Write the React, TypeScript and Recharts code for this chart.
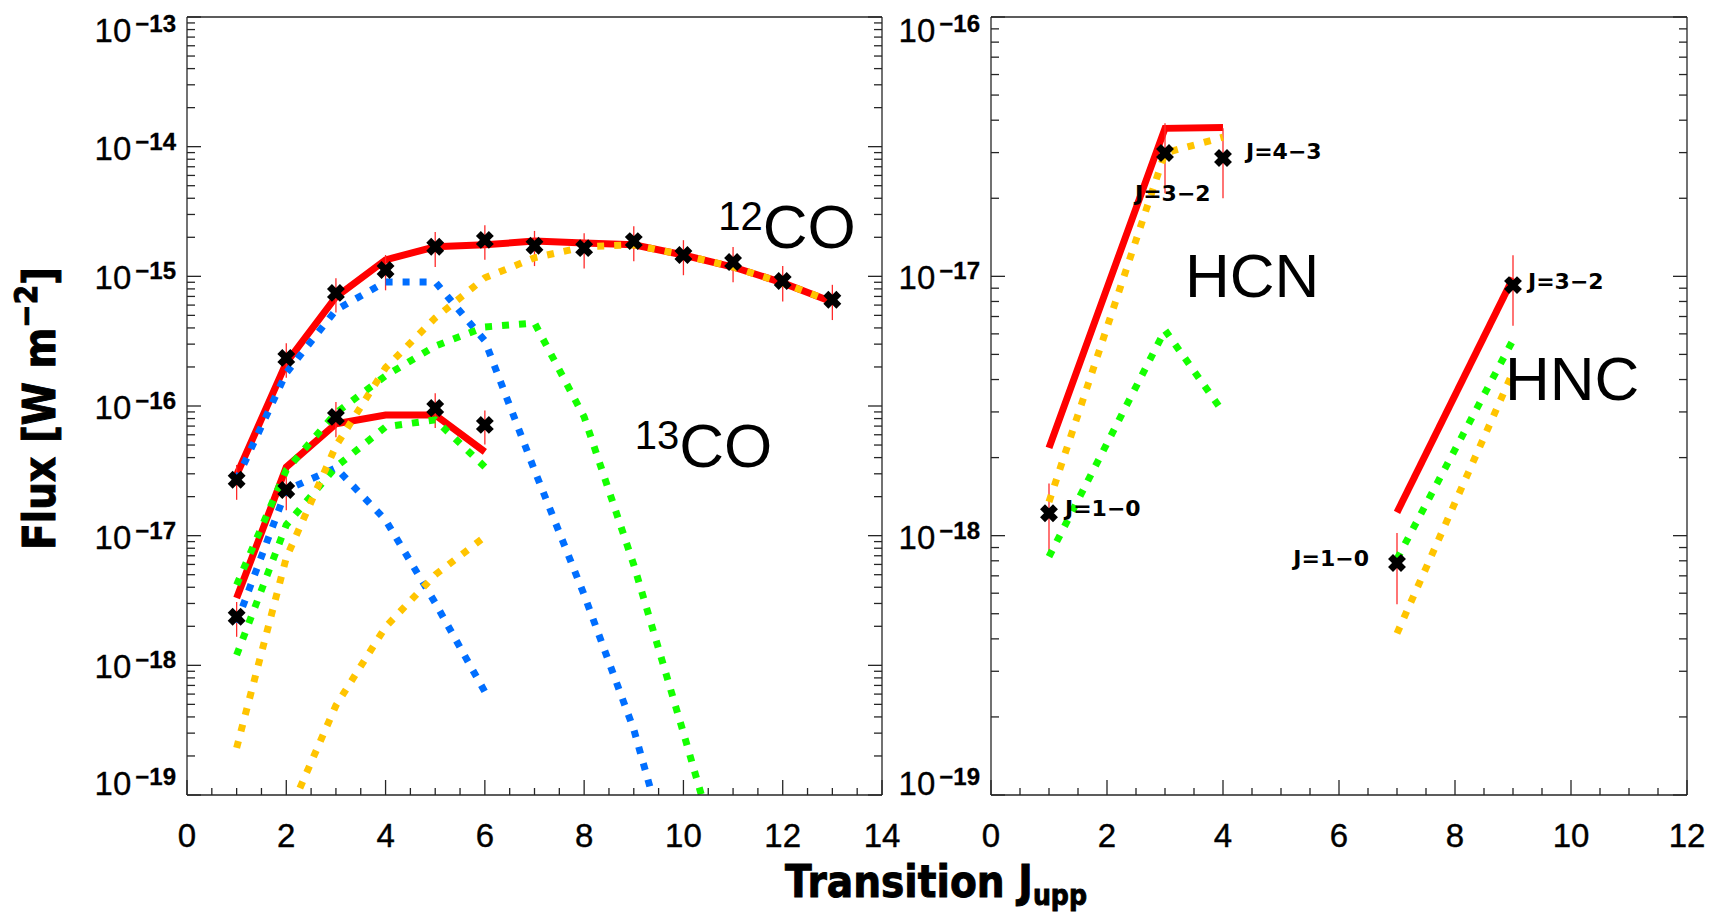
import React from 'react';
import { ComposedChart, Line, Scatter, XAxis, YAxis, ErrorBar } from 'recharts';

// ---------- left panel: CO ladders ----------
const co12J = [1, 2, 3, 4, 5, 6, 7, 8, 9, 10, 11, 12, 13];
const co12Flux = [2.7e-17, 2.35e-16, 7.45e-16, 1.12e-15, 1.69e-15, 1.91e-15, 1.72e-15, 1.65e-15, 1.87e-15, 1.46e-15, 1.29e-15, 9.2e-16, 6.6e-16];
const co12Sigma = [8.1e-18, 7.0e-17, 2.2e-16, 3.4e-16, 5.1e-16, 5.7e-16, 5.2e-16, 5.0e-16, 5.6e-16, 4.4e-16, 3.9e-16, 2.8e-16, 2.0e-16];
const co12Total = [2.94e-17, 2.15e-16, 6.93e-16, 1.34e-15, 1.69e-15, 1.75e-15, 1.87e-15, 1.81e-15, 1.75e-15, 1.46e-15, 1.18e-15, 8.9e-16, 6.35e-16];
const co12BlueJ = [1, 2, 3, 4, 5, 6, 7, 8, 9, 10];
const co12Blue = [2.7e-17, 1.8e-16, 5.5e-16, 9.06e-16, 9.06e-16, 3.18e-16, 3.2e-17, 3.5e-18, 3.2e-19, 1.4e-20];
const co12GreenJ = [1, 2, 3, 4, 5, 6, 7, 8, 9, 10, 11];
const co12Green = [4.18e-18, 3.21e-17, 8.85e-17, 1.71e-16, 2.9e-16, 4.07e-16, 4.37e-16, 8.24e-17, 5.96e-18, 3.02e-19, 1.42e-20];
const co12Orange = [2.31e-19, 6.75e-18, 4.92e-17, 1.97e-16, 4.78e-16, 9.73e-16, 1.39e-15, 1.69e-15, 1.75e-15, 1.46e-15, 1.18e-15, 8.9e-16, 6.35e-16];

const co13J = [1, 2, 3, 4, 5, 6];
const co13ObsJ = [1, 2, 3, 5, 6];
const co13Flux = [2.37e-18, 2.25e-17, 8.24e-17, 9.66e-17, 7.15e-17];
const co13Sigma = [7.1e-19, 6.8e-18, 2.5e-17, 2.9e-17, 2.1e-17];
const co13Total = [3.3e-18, 3.38e-17, 7.28e-17, 8.53e-17, 8.53e-17, 4.43e-17];
const co13Blue = [2.13e-18, 2.25e-17, 3.33e-17, 1.32e-17, 3.03e-18, 6.25e-19];
const co13Green = [1.2e-18, 1.21e-17, 3.39e-17, 6.9e-17, 7.82e-17, 3.39e-17];
const co13OrangeJ = [2, 3, 4, 5, 6];
const co13Orange = [6.5e-20, 4.9e-19, 1.98e-18, 4.99e-18, 9.8e-18];

// ---------- right panel: HCN / HNC ----------
const hcnJ = [1, 3, 4];
const hcnFlux = [1.22e-18, 2.99e-17, 2.86e-17];
const hcnSigma = [3.7e-19, 9.0e-18, 8.6e-18];
const hcnTotal = [2.18e-18, 3.72e-17, 3.75e-17];
const hcnGreen = [8.3e-19, 6.2e-18, 3.0e-18];
const hcnOrange = [1.35e-18, 2.99e-17, 3.44e-17];
const hcnLabels = ['J=1\u22120', 'J=3\u22122', 'J=4\u22123'];

const hncX = [7, 9];
const hncFlux = [7.84e-19, 9.25e-18];
const hncSigma = [2.4e-19, 2.8e-18];
const hncTotal = [1.23e-18, 9.84e-18];
const hncGreen = [8.13e-19, 5.68e-18];
const hncOrange = [4.2e-19, 4.28e-18];
const hncLabels = ['J=1\u22120', 'J=3\u22122'];

// molecule names, anchored in data coordinates
const leftNoteIso = ['12', '13'];
const leftNoteMol = ['CO', 'CO'];
const leftNoteX = [10.7, 9.02];
const leftNoteY = [1.66e-15, 3.39e-17];
const rightNoteIso = ['', ''];
const rightNoteMol = ['HCN', 'HNC'];
const rightNoteX = [3.345, 8.86];
const rightNoteY = [8.32e-18, 3.33e-18];

// axes
const xMajorLeft = [0, 2, 4, 6, 8, 10, 12, 14];
const xMajorRight = [0, 2, 4, 6, 8, 10, 12];
const yDecadesLeft = [-19, -18, -17, -16, -15, -14, -13];
const yDecadesRight = [-19, -18, -17, -16];

// layout for the J labels next to points (kept apart from the data)
const hcnLabelPos = [
  { dx: 16, dy: 3, anchor: 'start' },
  { dx: -30, dy: 48, anchor: 'start' },
  { dx: 23, dy: 1, anchor: 'start' },
];
const hncLabelPos = [
  { dx: -28, dy: 3, anchor: 'end' },
  { dx: 15, dy: 4, anchor: 'start' },
];

const AXIS = '#262626';
const RED = '#ff0000';
const BLUE = '#006eff';
const GREEN = '#14ff00';
const ORANGE = '#ffc400';
const SANS = '"Liberation Sans", Arial, sans-serif';
const HEAVY = '"DejaVu Sans", sans-serif';

const toPts = (xs: number[], ys: number[]) => xs.map((x, i) => ({ x, y: ys[i] }));
const toObs = (xs: number[], ys: number[], sig: number[], labels?: string[]) =>
  xs.map((x, i) => ({ x, y: ys[i], err: [sig[i], sig[i]], label: labels ? labels[i] : '', i }));
const toNotes = (iso: string[], mol: string[], xs: number[], ys: number[]) =>
  xs.map((x, i) => ({ x, y: ys[i], iso: iso[i], mol: mol[i] }));

const halfTicks = (majors: number[]) => {
  const out: number[] = [];
  for (let v = majors[0]; v <= majors[majors.length - 1] + 1e-9; v += 0.5) out.push(v);
  return out;
};
const logTicks = (decades: number[]) => {
  const out: number[] = [];
  decades.forEach((d, k) => {
    out.push(Number(`1e${d}`));
    if (k < decades.length - 1) for (let m = 2; m <= 9; m++) out.push(Number(`${m}e${d}`));
  });
  return out;
};

function XTick(props: any) {
  const { x, y, payload, top } = props;
  const v = payload.value;
  const major = Math.abs(v % 2) < 1e-9;
  const len = major ? 15 : 7;
  const dir = top ? 1 : -1;
  return (
    <g>
      <line x1={x} y1={y} x2={x} y2={y + dir * len} stroke={AXIS} strokeWidth={1.3} />
      {major && !top && (
        <text x={x} y={y + 52} textAnchor="middle" fontFamily={SANS} fontSize={33} fill="#000"
          stroke="#000" strokeWidth={0.4}>
          {v}
        </text>
      )}
    </g>
  );
}

function YTick(props: any) {
  const { x, y, payload, right, decades } = props;
  const e = Math.log10(payload.value);
  const k = Math.round(e);
  const major = Math.abs(e - k) < 1e-6;
  const len = major ? 14 : 8;
  const dir = right ? -1 : 1;
  let base = 13;
  if (k === decades[decades.length - 1]) base = 25;
  if (k === decades[0]) base = 0;
  return (
    <g>
      <line x1={x} y1={y} x2={x + dir * len} y2={y} stroke={AXIS} strokeWidth={1.3} />
      {major && !right && (
        <text x={x - 11} y={y + base} textAnchor="end" fontFamily={SANS} fontSize={33} fill="#000"
          stroke="#000" strokeWidth={0.3}>
          10
          <tspan dx={4} dy={-10} fontSize={24} fontWeight="bold">{`\u2212${Math.abs(k)}`}</tspan>
        </text>
      )}
    </g>
  );
}

const makeMarker = (pos?: { dx: number; dy: number; anchor: string }[]) => (p: any) => {
  const { cx, cy, payload } = p;
  const lp = pos && payload && pos[payload.i];
  return (
    <g>
      <path
        d={`M${cx - 4},${cy - 4}L${cx + 4},${cy + 4}M${cx - 4},${cy + 4}L${cx + 4},${cy - 4}`}
        stroke="#000"
        strokeWidth={7}
        strokeLinecap="square"
      />
      {lp && (
        <text x={cx + lp.dx} y={cy + lp.dy} textAnchor={lp.anchor} fontFamily={HEAVY} fontWeight="bold" fontSize={22} fill="#000">
          {payload.label}
        </text>
      )}
    </g>
  );
};

const noteShape = (p: any) => {
  const { cx, cy, payload } = p;
  return (
    <text x={cx} y={cy} fontFamily={SANS} fill="#000">
      {payload.iso ? <tspan fontSize={40} dy={-18}>{payload.iso}</tspan> : null}
      <tspan fontSize={62} dy={payload.iso ? 18 : 0}>{payload.mol}</tspan>
    </text>
  );
};

const noShape = () => <g />;

const dotted = { strokeWidth: 7, strokeDasharray: '7 10', dot: false, activeDot: false, isAnimationActive: false } as const;
const solid = { strokeWidth: 7, dot: false, activeDot: false, isAnimationActive: false } as const;

function renderAxes(xMajor: number[], decades: number[]) {
  const xt = halfTicks(xMajor);
  const yt = logTicks(decades);
  const xDom = [xMajor[0], xMajor[xMajor.length - 1]];
  const yDom = [Number(`1e${decades[0]}`), Number(`1e${decades[decades.length - 1]}`)];
  const axisLine = { stroke: AXIS, strokeWidth: 1.3 };
  return [
    <XAxis key="xb" xAxisId={0} dataKey="x" type="number" domain={xDom} allowDataOverflow ticks={xt} interval={0}
      tickSize={0} tickMargin={0} tickLine={false} height={60} axisLine={axisLine}
      tick={(p: any) => <XTick {...p} />} />,
    <XAxis key="xt" xAxisId="top" orientation="top" type="number" domain={xDom} allowDataOverflow ticks={xt} interval={0}
      tickSize={0} tickMargin={0} tickLine={false} height={10} axisLine={axisLine}
      tick={(p: any) => <XTick {...p} top />} />,
    <YAxis key="yl" yAxisId={0} dataKey="y" type="number" scale="log" domain={yDom} allowDataOverflow ticks={yt} interval={0}
      tickSize={0} tickMargin={0} tickLine={false} width={60} axisLine={axisLine}
      tick={(p: any) => <YTick {...p} decades={decades} />} />,
    <YAxis key="yr" yAxisId="right" orientation="right" type="number" scale="log" domain={yDom} allowDataOverflow ticks={yt} interval={0}
      tickSize={0} tickMargin={0} tickLine={false} width={20} axisLine={axisLine}
      tick={(p: any) => <YTick {...p} right decades={decades} />} />,
  ];
}

export default function App() {
  const co12Obs = toObs(co12J, co12Flux, co12Sigma);
  const co13Obs = toObs(co13ObsJ, co13Flux, co13Sigma);
  const hcnObs = toObs(hcnJ, hcnFlux, hcnSigma, hcnLabels);
  const hncObs = toObs(hncX, hncFlux, hncSigma, hncLabels);
  const errBar = (
    <ErrorBar dataKey="err" direction="y" width={0} stroke="#ff2a2a" strokeWidth={1.3} isAnimationActive={false} />
  );

  return (
    <div style={{ position: 'absolute', left: 0, top: 0, width: 1722, height: 913, background: '#fff', overflow: 'hidden' }}>
      <div style={{ position: 'absolute', left: 0, top: 0 }}>
        <ComposedChart width={960} height={913} margin={{ top: 7, right: 58, bottom: 58, left: 127 }}>
          {renderAxes(xMajorLeft, yDecadesLeft)}
          <Line data={toPts(co12J, co12Total)} dataKey="y" stroke={RED} {...solid} />
          <Line data={toPts(co13J, co13Total)} dataKey="y" stroke={RED} {...solid} />
          <Scatter data={co12Obs} dataKey="y" shape={makeMarker()} isAnimationActive={false} />
          <Scatter data={co13Obs} dataKey="y" shape={makeMarker()} isAnimationActive={false} />
          <Scatter data={co12Obs} dataKey="y" shape={noShape} isAnimationActive={false}>{errBar}</Scatter>
          <Scatter data={co13Obs} dataKey="y" shape={noShape} isAnimationActive={false}>{errBar}</Scatter>
          <Line data={toPts(co12BlueJ, co12Blue)} dataKey="y" stroke={BLUE} {...dotted} />
          <Line data={toPts(co13J, co13Blue)} dataKey="y" stroke={BLUE} {...dotted} />
          <Line data={toPts(co12GreenJ, co12Green)} dataKey="y" stroke={GREEN} {...dotted} />
          <Line data={toPts(co13J, co13Green)} dataKey="y" stroke={GREEN} {...dotted} />
          <Line data={toPts(co12J, co12Orange)} dataKey="y" stroke={ORANGE} {...dotted} />
          <Line data={toPts(co13OrangeJ, co13Orange)} dataKey="y" stroke={ORANGE} {...dotted} />
          <Scatter data={toNotes(leftNoteIso, leftNoteMol, leftNoteX, leftNoteY)} dataKey="y" shape={noteShape} isAnimationActive={false} />
        </ComposedChart>
      </div>

      <div style={{ position: 'absolute', left: 900, top: 0 }}>
        <ComposedChart width={822} height={913} margin={{ top: 7, right: 15, bottom: 58, left: 31 }}>
          {renderAxes(xMajorRight, yDecadesRight)}
          <Line data={toPts(hcnJ, hcnTotal)} dataKey="y" stroke={RED} {...solid} />
          <Line data={toPts(hncX, hncTotal)} dataKey="y" stroke={RED} {...solid} />
          <Scatter data={hcnObs} dataKey="y" shape={makeMarker(hcnLabelPos)} isAnimationActive={false} />
          <Scatter data={hncObs} dataKey="y" shape={makeMarker(hncLabelPos)} isAnimationActive={false} />
          <Scatter data={hcnObs} dataKey="y" shape={noShape} isAnimationActive={false}>{errBar}</Scatter>
          <Scatter data={hncObs} dataKey="y" shape={noShape} isAnimationActive={false}>{errBar}</Scatter>
          <Line data={toPts(hcnJ, hcnOrange)} dataKey="y" stroke={ORANGE} {...dotted} />
          <Line data={toPts(hcnJ, hcnGreen)} dataKey="y" stroke={GREEN} {...dotted} />
          <Line data={toPts(hncX, hncOrange)} dataKey="y" stroke={ORANGE} {...dotted} />
          <Line data={toPts(hncX, hncGreen)} dataKey="y" stroke={GREEN} {...dotted} />
          <Scatter data={toNotes(rightNoteIso, rightNoteMol, rightNoteX, rightNoteY)} dataKey="y" shape={noteShape} isAnimationActive={false} />
        </ComposedChart>
      </div>

      <svg width={1722} height={913} style={{ position: 'absolute', left: 0, top: 0, pointerEvents: 'none' }}>
        <text transform="translate(55,550) rotate(-90)" fontFamily={HEAVY} fontWeight="bold" fontSize={45}
          stroke="#000" strokeWidth={1} fill="#000" textLength={283} lengthAdjust="spacingAndGlyphs">
          Flux [W m<tspan fontSize={32} dy={-18}>{'\u22122'}</tspan><tspan dy={18}>]</tspan>
        </text>
        <text x={785} y={897} fontFamily={HEAVY} fontWeight="bold" fontSize={45}
          stroke="#000" strokeWidth={1} fill="#000" textLength={302} lengthAdjust="spacingAndGlyphs">
          Transition J<tspan fontSize={29} dy={8}>upp</tspan>
        </text>
      </svg>
    </div>
  );
}
